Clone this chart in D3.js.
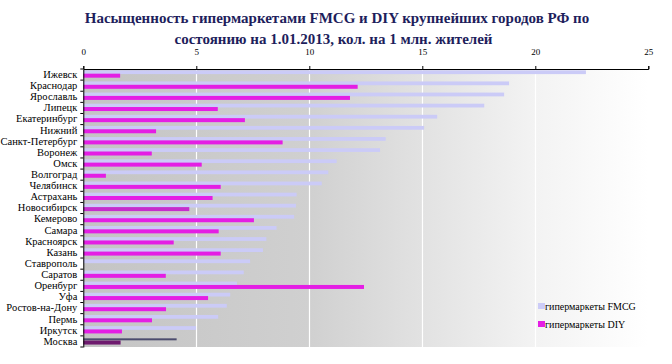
<!DOCTYPE html>
<html><head><meta charset="utf-8">
<script src="https://cdn.jsdelivr.net/npm/d3@7/dist/d3.min.js"></script>
<style>body{margin:0;background:#fff}svg{display:block}</style>
</head><body>
<script>
const cities = ["Ижевск","Краснодар","Ярославль","Липецк","Екатеринбург","Нижний","Санкт-Петербург","Воронеж","Омск","Волгоград","Челябинск","Астрахань","Новосибирск","Кемерово","Самара","Красноярск","Казань","Ставрополь","Саратов","Оренбург","Уфа","Ростов-на-Дону","Пермь","Иркутск","Москва"];
const fmcg = [22.24,18.84,18.62,17.74,15.66,15.08,13.38,13.13,11.21,10.84,10.55,9.44,9.41,9.33,8.55,8.1,7.95,7.38,7.1,6.8,6.5,6.35,5.97,4.99,4.13];
const diy = [1.63,12.14,11.8,5.95,7.15,3.22,8.82,3.03,5.24,1.0,6.08,5.72,4.69,7.55,5.99,4.0,6.08,0,3.65,12.42,5.52,3.66,3.04,1.71,1.65];
const xTicks = [0,5,10,15,20,25];
const seriesNames = ["гипермаркеты FMCG","гипермаркеты DIY"];
const titleLines = ["Насыщенность гипермаркетами FMCG и DIY крупнейших городов РФ по","состоянию на 1.01.2013, кол. на 1 млн. жителей"];
const highlightCity = "Москва";

const W=672,H=364;
const svg=d3.select("body").append("svg").attr("width",W).attr("height",H);
const defs=svg.append("defs");
const grad=defs.append("linearGradient").attr("id","bg").attr("x1","0").attr("x2","1").attr("y1","0").attr("y2","0");
[[0,"#c4c4c4"],[0.4,"#d0d0d0"],[0.6,"#e2e2e2"],[0.8,"#f3f3f3"],[1,"#ffffff"]].forEach(([o,c])=>grad.append("stop").attr("offset",o).attr("stop-color",c));

const x=d3.scaleLinear().domain([0,25]).range([83.3,648.3]);
const y=d3.scaleBand().domain(cities).range([69,347]).padding(0);
const serif="'Liberation Serif','Times New Roman',serif";

svg.append("rect").attr("x",x(0)).attr("y",69).attr("width",x(25)-x(0)).attr("height",347-69).attr("fill","url(#bg)");

svg.append("g").selectAll("line").data(xTicks.filter(d=>d>0&&d<25)).join("line")
 .attr("x1",d=>Math.round(x(d))+0.5).attr("x2",d=>Math.round(x(d))+0.5).attr("y1",69).attr("y2",347)
 .attr("stroke","#ffffff").attr("stroke-width",1.2);

const bw=y.bandwidth();
svg.append("g").selectAll("rect").data(cities).join("rect")
 .attr("x",x(0))
 .attr("y",(c)=>c===highlightCity? y(c)+bw*0.22 : y(c)+bw*0.12)
 .attr("height",(c)=>c===highlightCity? 2 : bw*0.34)
 .attr("width",(c,i)=>x(fmcg[i])-x(0))
 .attr("fill",(c)=>c===highlightCity?"#4c4c6e":"#cbcbf7");
svg.append("g").selectAll("rect").data(cities).join("rect")
 .attr("x",x(0))
 .attr("y",(c)=>y(c)+bw*0.42)
 .attr("height",bw*0.36)
 .attr("width",(c,i)=>x(diy[i])-x(0))
 .attr("fill",(c)=>c===highlightCity?"#6e1a6e":(c==="Новосибирск"?"#c62ccc":"#e41ee4"));

const xa=svg.append("g").attr("transform","translate(0,69)").call(d3.axisTop(x).tickValues(xTicks).tickSize(3).tickPadding(11).tickFormat(d3.format("d")));
xa.attr("font-family",null);
xa.select(".domain").attr("stroke","#000");
xa.selectAll("text").style("font-family",serif).style("font-size","9px").attr("fill","#000");

const ya=svg.append("g").attr("transform",`translate(${x(0)},0)`).call(d3.axisLeft(y).tickSize(0).tickPadding(6));
ya.attr("font-family",null);
ya.select(".domain").attr("stroke","#000");
ya.selectAll("text").style("font-family",serif).style("font-size","10.5px").attr("fill","#000");
const bounds=cities.map(c=>y(c)).concat([y(cities[cities.length-1])+bw]);
svg.append("g").selectAll("line").data(bounds).join("line")
 .attr("x1",x(0)-3).attr("x2",x(0)).attr("y1",d=>d).attr("y2",d=>d).attr("stroke","#000");

svg.append("g").selectAll("text").data(titleLines).join("text")
 .attr("x",(d,i)=>i===0?337:333.5).attr("y",(d,i)=>23+i*21)
 .attr("text-anchor","middle").style("font-family",serif).attr("font-weight","bold").style("font-size","15px")
 .attr("fill","#1e1e5c").text(d=>d);

const lg=svg.append("g");
const lcol=["#cbcbf7","#e41ee4"];
seriesNames.forEach((n,i)=>{
 lg.append("rect").attr("x",538).attr("y",303+i*18).attr("width",7).attr("height",6).attr("fill",lcol[i]);
 lg.append("text").attr("x",545).attr("y",310+i*18).style("font-family",serif).style("font-size","10px").attr("fill","#000").text(n);
});
</script>
</body></html>
